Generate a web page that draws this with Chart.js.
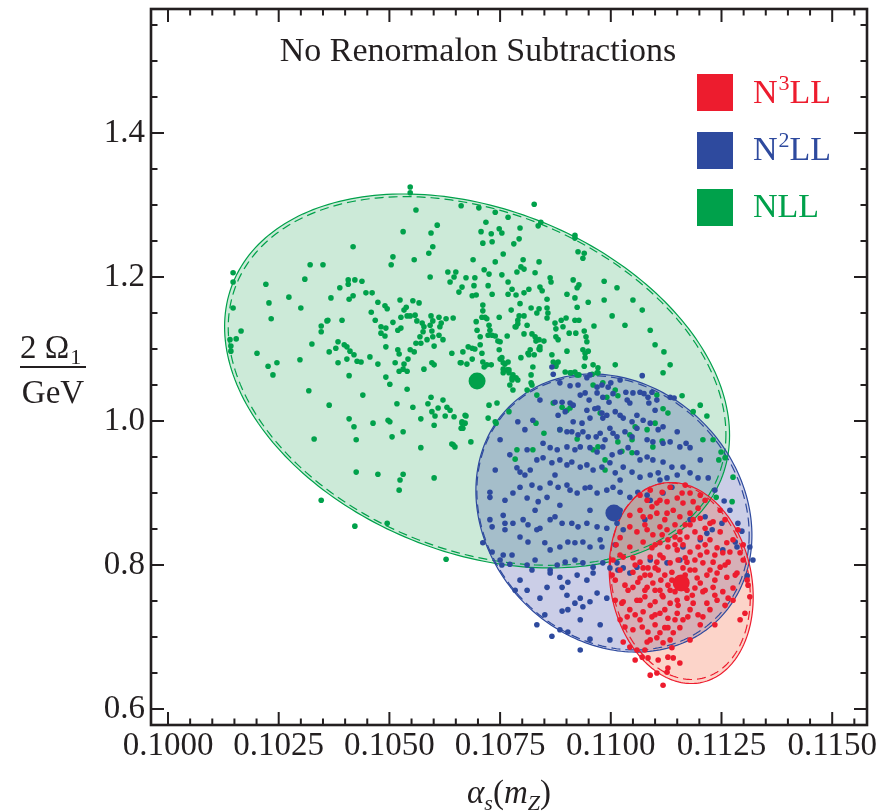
<!DOCTYPE html>
<html>
<head>
<meta charset="utf-8">
<script src="https://cdn.jsdelivr.net/npm/chart.js@4.4.1/dist/chart.umd.min.js"></script>
<style>
  html, body { margin: 0; padding: 0; background: #fff; }
  #wrap { width: 883px; height: 811px; }
</style>
</head>
<body>
<div id="wrap"><canvas id="chart" width="883" height="811"></canvas></div>
<script>
// ---- data ----
const xMajor = [0.1000, 0.1025, 0.1050, 0.1075, 0.1100, 0.1125, 0.1150];
const xTickLabels = ['0.1000', '0.1025', '0.1050', '0.1075', '0.1100', '0.1125', '0.1150'];
const yMajor = [0.6, 0.8, 1.0, 1.2, 1.4];
const yTickLabels = ['0.6', '0.8', '1.0', '1.2', '1.4'];

const seriesNames = ['N3LL', 'N2LL', 'NLL'];

// best fit values (big dots)
const n3llCenter = [0.11159, 0.775];
const n2llCenter = [0.11007, 0.8722];
const nllCenter = [0.10698, 1.0556];

// error ellipses: [center alpha, center omega, half width, half height, correlation]
const n3llEllipse = [0.11159, 0.7750, 0.001626, 0.1396, -0.14];
const n3llEllipseDashed = [0.11157, 0.7775, 0.001580, 0.1365, -0.16];
const n2llEllipse = [0.11007, 0.8722, 0.003117, 0.1931, -0.16];
const n2llEllipseDashed = [0.11005, 0.8725, 0.003075, 0.1905, -0.16];
const nllEllipse = [0.10698, 1.0556, 0.005702, 0.2597, -0.29];
const nllEllipseDashed = [0.10698, 1.0556, 0.005620, 0.2560, -0.29];

const nllPts = [
[0.10547,1.325],[0.10547,1.317],[0.10560,1.293],[0.10662,1.299],[0.10702,1.296],[0.10739,1.290],[0.10768,1.283],[0.10827,1.301],[0.10842,1.276],[0.10836,1.271],
[0.10919,1.258],[0.10919,1.254],[0.10926,1.235],[0.10940,1.233],[0.10937,1.226],[0.10608,1.272],[0.10594,1.261],[0.10531,1.263],[0.10418,1.242],[0.10598,1.242],
[0.10589,1.233],[0.10508,1.228],[0.10504,1.217],[0.10556,1.224],[0.10321,1.217],[0.10350,1.217],[0.10309,1.197],[0.10718,1.276],[0.10707,1.263],[0.10730,1.260],
[0.10754,1.261],[0.10748,1.267],[0.10711,1.247],[0.10732,1.249],[0.10781,1.246],[0.10793,1.253],[0.10795,1.268],[0.10689,1.224],[0.10739,1.221],[0.10757,1.232],
[0.10802,1.224],[0.10797,1.214],[0.10804,1.211],[0.10838,1.221],[0.10829,1.206],[0.10714,1.210],[0.10754,1.203],[0.10725,1.204],[0.10632,1.207],[0.10650,1.207],
[0.10637,1.193],[0.10646,1.200],[0.10592,1.200],[0.10673,1.199],[0.10693,1.199],[0.10664,1.186],[0.10657,1.179],[0.10691,1.188],[0.10696,1.175],[0.10687,1.174],
[0.10723,1.188],[0.10732,1.176],[0.10768,1.193],[0.10777,1.183],[0.10788,1.207],[0.10768,1.176],[0.10786,1.175],[0.10804,1.178],[0.10815,1.183],[0.10840,1.186],
[0.10845,1.181],[0.10863,1.199],[0.10865,1.193],[0.10915,1.196],[0.10928,1.189],[0.10924,1.185],[0.10901,1.176],[0.10949,1.165],[0.10919,1.171],[0.10924,1.158],
[0.10856,1.169],[0.10820,1.157],[0.10838,1.156],[0.10833,1.150],[0.10856,1.157],[0.10858,1.150],[0.10856,1.143],[0.10795,1.163],[0.10775,1.154],[0.10793,1.146],
[0.10804,1.146],[0.10790,1.140],[0.10784,1.131],[0.10748,1.144],[0.10711,1.161],[0.10711,1.153],[0.10709,1.144],[0.10716,1.144],[0.10720,1.142],[0.10725,1.133],
[0.10727,1.126],[0.10723,1.119],[0.10698,1.126],[0.10696,1.138],[0.10732,1.119],[0.10739,1.118],[0.10745,1.111],[0.10750,1.110],[0.10748,1.099],[0.10766,1.118],
[0.10786,1.131],[0.10790,1.135],[0.10804,1.121],[0.10811,1.133],[0.10822,1.121],[0.10829,1.117],[0.10838,1.113],[0.10849,1.111],[0.10840,1.103],[0.10838,1.100],
[0.10831,1.111],[0.10874,1.136],[0.10876,1.128],[0.10892,1.131],[0.10899,1.143],[0.10888,1.140],[0.10919,1.140],[0.10928,1.140],[0.10876,1.117],[0.10881,1.113],
[0.10906,1.122],[0.10921,1.122],[0.10940,1.125],[0.10944,1.117],[0.10946,1.110],[0.10962,1.132],[0.10867,1.092],[0.10901,1.097],[0.10937,1.099],[0.10942,1.094],
[0.10919,1.068],[0.10928,1.064],[0.10940,1.076],[0.10942,1.088],[0.10971,1.074],[0.10971,1.067],[0.10818,1.099],[0.10813,1.094],[0.10797,1.088],[0.10761,1.079],
[0.10766,1.071],[0.10779,1.064],[0.10777,1.057],[0.10786,1.060],[0.10754,1.088],[0.10711,1.082],[0.10714,1.075],[0.10720,1.078],[0.10730,1.078],[0.10709,1.094],
[0.10693,1.100],[0.10705,1.106],[0.10705,1.117],[0.10678,1.103],[0.10687,1.101],[0.10666,1.096],[0.10662,1.081],[0.10641,1.094],[0.10601,1.104],[0.10585,1.113],
[0.10576,1.124],[0.10569,1.117],[0.10596,1.125],[0.10598,1.117],[0.10614,1.131],[0.10612,1.119],[0.10621,1.113],[0.10612,1.144],[0.10617,1.136],[0.10628,1.142],
[0.10644,1.143],[0.10594,1.146],[0.10598,1.139],[0.10592,1.133],[0.10574,1.136],[0.10562,1.139],[0.10578,1.131],[0.10558,1.147],[0.10540,1.146],[0.10533,1.154],
[0.10538,1.158],[0.10553,1.167],[0.10567,1.164],[0.10524,1.168],[0.10547,1.146],[0.10526,1.144],[0.10508,1.137],[0.10526,1.129],[0.10519,1.126],[0.10492,1.129],
[0.10481,1.131],[0.10481,1.122],[0.10490,1.118],[0.10474,1.165],[0.10459,1.151],[0.10468,1.140],[0.10490,1.160],[0.10495,1.156],[0.10461,1.178],[0.10447,1.178],
[0.10422,1.196],[0.10407,1.196],[0.10407,1.190],[0.10438,1.194],[0.10388,1.185],[0.10368,1.171],[0.10409,1.169],[0.10418,1.174],[0.10393,1.140],[0.10359,1.139],
[0.10346,1.132],[0.10346,1.124],[0.10325,1.107],[0.10384,1.110],[0.10398,1.106],[0.10404,1.103],[0.10411,1.097],[0.10404,1.086],[0.10364,1.096],[0.10379,1.101],
[0.10384,1.081],[0.10409,1.063],[0.10420,1.092],[0.10427,1.083],[0.10436,1.082],[0.10456,1.089],[0.10474,1.079],[0.10492,1.103],[0.10492,1.061],[0.10519,1.099],
[0.10522,1.093],[0.10513,1.081],[0.10522,1.069],[0.10531,1.072],[0.10540,1.069],[0.10533,1.079],[0.10542,1.086],[0.10547,1.099],[0.10556,1.096],[0.10560,1.108],
[0.10571,1.108],[0.10578,1.072],[0.10596,1.081],[0.10601,1.078],[0.10675,1.079],[0.10687,1.086],[0.10750,1.086],[0.10757,1.072],[0.10770,1.067],[0.10815,1.092],
[0.10827,1.092],[0.10840,1.099],[0.10870,1.082],[0.10876,1.078],[0.10881,1.082],[0.10910,1.067],[0.10924,1.064],[0.10820,1.053],[0.10949,1.097],
[0.10147,1.206],[0.10147,1.193],[0.10147,1.157],[0.10165,1.125],[0.10154,1.114],[0.10140,1.113],[0.10142,1.104],[0.10142,1.097],[0.10221,1.190],[0.10228,1.164],
[0.10233,1.142],[0.10273,1.172],[0.10300,1.157],[0.10201,1.094],[0.10226,1.076],[0.10237,1.064],[0.10246,1.081],[0.10298,1.085],[0.10318,1.042],[0.10330,0.975],
[0.10361,1.140],[0.10364,1.022],[0.10440,1.036],[0.10409,1.003],[0.10420,0.992],[0.10425,0.974],[0.10463,0.997],[0.10501,1.051],[0.10497,1.001],[0.10501,0.999],
[0.10506,0.978],[0.10517,1.024],[0.10531,0.985],[0.10540,1.044],[0.10553,1.019],[0.10571,1.003],[0.10571,0.963],[0.10587,1.024],[0.10594,1.033],[0.10596,1.013],
[0.10603,1.007],[0.10610,1.018],[0.10621,1.029],[0.10626,1.007],[0.10630,1.019],[0.10637,1.015],[0.10646,1.006],[0.10601,0.994],[0.10662,0.990],[0.10664,0.997],
[0.10671,0.997],[0.10673,1.007],[0.10684,0.971],[0.10641,0.968],[0.10648,0.964],[0.10723,1.004],[0.10725,1.022],[0.10743,1.025],[0.10741,0.997],
[0.10425,0.929],[0.10474,0.926],[0.10531,0.926],[0.10524,0.918],[0.10522,0.904],[0.10601,0.921],[0.10346,0.890],[0.10422,0.854],[0.10495,0.858],[0.10628,0.808],
[0.10660,1.081],[0.10739,0.999],[0.10671,1.008],[0.10664,0.999],[0.10666,0.990],[0.10644,0.967],[0.10757,1.081],[0.10768,1.082],[0.10770,1.071],[0.10757,1.067],
[0.10777,1.060],[0.10772,1.050],[0.10779,1.043],[0.10790,1.057],[0.10822,1.050],[0.10820,1.064],[0.10824,1.075],[0.10811,1.043],[0.10833,1.036],[0.10770,1.013],
[0.10831,0.997],[0.10849,0.983],[0.10788,0.960],[0.10784,0.947],[0.10824,0.960],[0.10876,1.076],[0.10897,1.068],[0.10908,1.067],[0.10960,1.078],[0.10958,1.065],
[0.10969,1.067],[0.11010,1.078],[0.10960,1.050],[0.10982,1.053],[0.11010,1.043],[0.11016,1.035],[0.10991,1.033],[0.10870,1.025],[0.10890,1.019],[0.10901,1.015],
[0.10908,1.018],[0.10885,0.988],[0.10976,1.011],[0.10924,0.975],[0.11016,0.971],[0.11048,0.974],[0.11055,0.992],[0.11043,0.981],[0.11082,0.988],[0.11025,0.958],
[0.11048,0.956],[0.11095,0.964],[0.11116,0.972],[0.11100,0.997],[0.11118,1.017],[0.11129,1.011],[0.11104,1.036],[0.11118,1.067],[0.11161,1.035],[0.11186,1.013],
[0.11208,0.974],[0.11231,0.974],[0.11249,0.957],[0.11244,0.946],[0.11258,0.949],[0.11276,0.922],[0.11274,0.888],[0.11238,0.894],[0.10987,0.946],[0.10987,0.932],
[0.10960,0.960],[0.10971,0.964],[0.10985,1.168],[0.11003,1.146],[0.11032,1.133],[0.11050,1.168],[0.11071,1.154],[0.11089,1.126],[0.11100,1.106],[0.11120,1.096],
[0.11134,1.078],[0.11202,1.022],[0.11217,1.007],[0.10985,1.194],[0.11014,1.185]
];

const n2llPts = [
[0.10867,1.075],[0.10870,1.065],[0.10885,1.053],[0.10908,1.049],[0.10926,1.050],[0.10946,1.060],[0.10953,1.064],[0.10969,1.047],[0.10980,1.050],[0.10994,1.047],
[0.11000,1.053],[0.10942,1.039],[0.10951,1.029],[0.10969,1.039],[0.10982,1.033],[0.10996,1.026],[0.11005,1.038],[0.11034,1.040],[0.11050,1.039],[0.11066,1.040],
[0.11071,1.063],[0.11075,1.038],[0.11084,1.033],[0.11093,1.040],[0.11104,1.029],[0.11134,1.033],[0.11143,1.032],[0.11086,1.025],[0.11037,1.029],[0.11043,1.025],
[0.10874,1.026],[0.10890,1.026],[0.10908,1.025],[0.10915,1.022],[0.10897,1.013],[0.10881,1.008],[0.10946,1.015],[0.10964,1.017],[0.10971,1.018],[0.10980,1.011],
[0.10991,1.008],[0.10982,1.004],[0.11010,1.013],[0.10915,0.999],[0.10935,0.997],[0.10953,1.004],[0.11021,1.008],[0.11028,1.004],[0.11048,0.999],[0.11059,1.008],
[0.11073,1.001],[0.11089,0.997],[0.11107,0.988],[0.11118,0.992],[0.11150,0.985],[0.11170,0.969],[0.11179,0.963],[0.10790,0.999],[0.10824,1.001],[0.10885,0.988],
[0.10901,0.985],[0.10912,0.985],[0.10926,0.981],[0.10937,0.985],[0.10949,0.978],[0.10967,0.978],[0.10976,0.983],[0.10987,0.974],[0.10998,0.990],[0.11005,0.983],
[0.11014,0.978],[0.11032,0.985],[0.11048,0.978],[0.11059,0.990],[0.11082,0.974],[0.11095,0.971],[0.11118,0.969],[0.11134,0.971],[0.11156,0.964],[0.10847,0.969],
[0.10863,0.963],[0.10879,0.960],[0.10901,0.964],[0.10919,0.960],[0.10931,0.964],[0.10953,0.963],[0.10969,0.957],[0.10982,0.964],[0.11003,0.953],[0.11021,0.957],
[0.11039,0.963],[0.11059,0.956],[0.11082,0.950],[0.11095,0.946],[0.11118,0.943],[0.11138,0.936],[0.10811,0.960],[0.10833,0.946],[0.10788,0.935],[0.10806,0.925],
[0.10795,0.929],[0.10847,0.949],[0.10867,0.942],[0.10885,0.946],[0.10901,0.939],[0.10912,0.943],[0.10931,0.936],[0.10946,0.939],[0.10960,0.932],[0.10980,0.936],
[0.10998,0.942],[0.11010,0.928],[0.11028,0.936],[0.11048,0.929],[0.11066,0.922],[0.11089,0.925],[0.11107,0.928],[0.11127,0.921],[0.11150,0.925],[0.11163,0.936],
[0.11179,0.928],[0.11197,0.921],[0.11220,0.921],[0.10822,0.911],[0.10840,0.907],[0.10863,0.914],[0.10881,0.908],[0.10901,0.911],[0.10908,0.904],[0.10924,0.900],
[0.10942,0.907],[0.10953,0.908],[0.10969,0.900],[0.10991,0.904],[0.11005,0.908],[0.11021,0.901],[0.11043,0.894],[0.11061,0.901],[0.11082,0.897],[0.11089,0.890],
[0.11118,0.900],[0.11138,0.908],[0.10727,0.901],[0.10779,0.900],[0.10811,0.893],[0.10836,0.888],[0.10856,0.894],[0.10727,0.863],[0.10761,0.858],[0.10779,0.858],
[0.10802,0.863],[0.10813,0.856],[0.10840,0.851],[0.10863,0.863],[0.10874,0.867],[0.10890,0.858],[0.10912,0.858],[0.10926,0.853],[0.10946,0.858],[0.10969,0.853],
[0.10991,0.851],[0.11014,0.858],[0.11028,0.849],[0.10711,0.831],[0.10732,0.818],[0.10757,0.814],[0.10777,0.814],[0.10795,0.839],[0.10813,0.832],[0.10833,0.849],
[0.10851,0.831],[0.10863,0.821],[0.10885,0.825],[0.10903,0.832],[0.10919,0.831],[0.10937,0.832],[0.10953,0.825],[0.10980,0.825],[0.10754,0.800],[0.10772,0.801],
[0.10811,0.800],[0.10822,0.793],[0.10863,0.793],[0.10879,0.800],[0.10897,0.804],[0.10919,0.807],[0.10937,0.803],[0.10960,0.797],[0.10982,0.803],[0.10998,0.796],
[0.11016,0.793],[0.10863,0.789],[0.10885,0.783],[0.10903,0.776],[0.10924,0.786],[0.10946,0.779],[0.10960,0.789],[0.10811,0.765],[0.10840,0.754],[0.10856,0.769],
[0.10890,0.769],[0.10901,0.758],[0.10919,0.747],[0.10931,0.754],[0.10937,0.742],[0.10969,0.761],[0.10991,0.754],[0.10890,0.736],[0.10903,0.738],[0.10953,0.749],
[0.10833,0.717],[0.10867,0.701],[0.10903,0.707],[0.10953,0.697],[0.11287,0.858],[0.11296,0.847],[0.11314,0.825],[0.11321,0.807],[0.11308,0.785],[0.11281,0.832],
[0.11256,0.889],[0.11251,0.858],[0.11229,0.849],[0.11213,0.867],[0.11014,0.803],[0.11028,0.796],[0.11043,0.789],[0.11059,0.797],[0.11089,0.807],[0.11127,0.803],
[0.11156,0.807],[0.11163,0.825],[0.11202,0.835],[0.11217,0.844],[0.11253,0.821],[0.11285,0.825],[0.10732,0.853],[0.10727,0.894],[0.10795,0.908],[0.10757,0.869],
[0.10750,0.974],[0.10772,0.953],[0.10739,0.932],[0.10761,0.890],[0.10829,0.876],[0.10885,0.883],[0.10953,0.876],[0.11021,0.876],[0.11077,0.863],[0.11111,0.918],
[0.11202,0.946],[0.11235,0.904],[0.11269,0.876],[0.11179,0.863],[0.10976,0.835],[0.11010,0.828],[0.10829,0.807],[0.10795,0.779],[0.10851,0.731],[0.10885,0.710],
[0.10931,0.724],[0.10976,0.717],[0.10998,0.696],[0.10931,0.682],[0.10818,0.932],[0.10874,0.925],[0.11021,0.918],[0.11066,0.946],[0.11100,1.015],[0.10931,1.036],
[0.11021,1.057],[0.10840,1.029],[0.10806,0.988],[0.10761,0.849],[0.10750,0.807],[0.10784,0.765]
];

const n3llPts = [
[0.11116,0.901],[0.11134,0.908],[0.11161,0.900],[0.11179,0.900],[0.11150,0.893],[0.11127,0.888],[0.11104,0.886],[0.11093,0.881],[0.11082,0.890],[0.11163,0.886],
[0.11186,0.888],[0.11197,0.879],[0.11066,0.876],[0.11073,0.867],[0.11089,0.867],[0.11104,0.872],[0.11127,0.872],[0.11141,0.876],[0.11156,0.867],[0.11179,0.872],
[0.11186,0.863],[0.11202,0.865],[0.11224,0.858],[0.11231,0.860],[0.11213,0.851],[0.11043,0.853],[0.11059,0.846],[0.11082,0.849],[0.11095,0.842],[0.11111,0.853],
[0.11127,0.849],[0.11145,0.839],[0.11156,0.846],[0.11172,0.839],[0.11190,0.846],[0.11202,0.838],[0.11224,0.835],[0.11247,0.846],[0.11262,0.831],[0.11276,0.835],
[0.11021,0.838],[0.11043,0.825],[0.11073,0.832],[0.11093,0.824],[0.11111,0.831],[0.11129,0.825],[0.11150,0.821],[0.11163,0.828],[0.11179,0.818],[0.11197,0.825],
[0.11217,0.818],[0.11240,0.824],[0.11253,0.817],[0.11269,0.818],[0.11292,0.817],[0.11028,0.811],[0.11050,0.810],[0.11066,0.804],[0.11089,0.811],[0.11104,0.804],
[0.11118,0.810],[0.11134,0.803],[0.11152,0.807],[0.11172,0.804],[0.11190,0.807],[0.11208,0.803],[0.11231,0.804],[0.11247,0.797],[0.11265,0.804],[0.11299,0.807],
[0.11021,0.793],[0.11050,0.790],[0.11073,0.796],[0.11089,0.786],[0.11107,0.793],[0.11122,0.786],[0.11138,0.790],[0.11195,0.782],[0.11217,0.786],[0.11240,0.789],
[0.11262,0.783],[0.11285,0.789],[0.11308,0.779],[0.11050,0.769],[0.11061,0.776],[0.11082,0.769],[0.11095,0.775],[0.11111,0.765],[0.11129,0.772],[0.11145,0.763],
[0.11172,0.765],[0.11190,0.768],[0.11208,0.763],[0.11231,0.769],[0.11253,0.763],[0.11276,0.768],[0.11310,0.772],[0.11314,0.756],[0.11028,0.749],[0.11059,0.751],
[0.11077,0.756],[0.11100,0.749],[0.11118,0.756],[0.11134,0.747],[0.11150,0.751],[0.11172,0.754],[0.11186,0.747],[0.11217,0.747],[0.11240,0.751],[0.11265,0.754],
[0.11303,0.733],[0.11037,0.728],[0.11055,0.731],[0.11073,0.735],[0.11093,0.728],[0.11111,0.733],[0.11129,0.726],[0.11150,0.733],[0.11163,0.724],[0.11174,0.728],
[0.11208,0.728],[0.11032,0.714],[0.11050,0.710],[0.11071,0.714],[0.11084,0.707],[0.11100,0.717],[0.11111,0.706],[0.11122,0.713],[0.11141,0.706],[0.11156,0.713],
[0.11028,0.693],[0.11043,0.686],[0.11059,0.682],[0.11082,0.693],[0.11104,0.699],[0.11118,0.692],[0.11134,0.696],[0.11071,0.672],[0.11084,0.671],[0.11107,0.668],
[0.11129,0.672],[0.11141,0.671],[0.11156,0.664],[0.11104,0.650],[0.11127,0.651],[0.11129,0.657],[0.11118,0.633],[0.11025,0.747],[0.11111,0.814],[0.11145,0.828],
[0.11168,0.856],[0.11122,0.863],[0.11100,0.828],[0.11138,0.779],[0.11168,0.786],[0.11113,0.779],[0.11077,0.786],[0.11202,0.775],[0.11224,0.738],[0.11089,0.744],
[0.11122,0.738],[0.11066,0.724],[0.11134,0.765],[0.11179,0.793],[0.11066,0.782],[0.11156,0.835],[0.11100,0.796],[0.11184,0.758],[0.11235,0.779],[0.11039,0.765],
[0.11010,0.779],[0.11005,0.807],[0.11012,0.828],[0.11276,0.751],[0.11292,0.724],[0.11258,0.863],[0.11089,0.904],[0.11066,0.897],[0.11202,0.897],[0.11247,0.876],
[0.11077,0.856],[0.11116,0.842],[0.11179,0.856],[0.11145,0.856],[0.11213,0.828],[0.11235,0.814],[0.11055,0.800],[0.11084,0.796],[0.11163,0.796],[0.11190,0.793],
[0.11213,0.765],[0.11163,0.776],[0.11179,0.738],[0.11202,0.717],[0.11145,0.724],[0.11100,0.731],[0.11077,0.765],[0.11043,0.738],[0.11021,0.724],[0.11010,0.751],
[0.11179,0.696],[0.11077,0.682],[0.11055,0.668],[0.11089,0.647],[0.11138,0.685],[0.11235,0.758],[0.11258,0.744],[0.11281,0.786],[0.11299,0.828],[0.11287,0.849],
[0.11111,0.890],[0.11168,0.911],[0.11213,0.890],[0.11043,0.869],[0.11021,0.814],[0.11003,0.786],[0.11129,0.835],[0.11168,0.810],[0.11202,0.814],[0.11224,0.793],
[0.11116,0.758],[0.11152,0.744],[0.11197,0.731],[0.11235,0.717],[0.11129,0.713],[0.11089,0.696],[0.11032,0.772],[0.11066,0.751],[0.11100,0.765],[0.11258,0.800]
];

// ---- styling ----
const ink = '#231f20';
const serif = '"Liberation Serif", "Times New Roman", serif';
const red = '#ed1c2e', blue = '#2e4a9e', green = '#00a14b';

const toXY = (arr) => arr.map(([x, y]) => ({ x, y }));

function ellipsePath(ctx, chart, e) {
    const xs = chart.scales.x, ys = chart.scales.y;
    const [cx, cy, wx, hy, rho] = e;
    const d = Math.acos(rho);
    ctx.beginPath();
    for (let i = 0; i <= 240; i++) {
        const t = i / 240 * 2 * Math.PI;
        const px = xs.getPixelForValue(cx + wx * Math.cos(t));
        const py = ys.getPixelForValue(cy + hy * Math.cos(t + d));
        if (i === 0) ctx.moveTo(px, py); else ctx.lineTo(px, py);
    }
    ctx.closePath();
}

const ellipses = {
    id: 'ellipses',
    beforeDatasetsDraw(chart) {
        const ctx = chart.ctx, a = chart.chartArea;
        ctx.save();
        ctx.beginPath();
        ctx.rect(a.left, a.top, a.right - a.left, a.bottom - a.top);
        ctx.clip();
        const fills = [
            [nllEllipse, 'rgba(0,150,60,0.2)'],
            [n2llEllipse, 'rgba(46,60,160,0.25)'],
            [n3llEllipse, 'rgba(245,100,60,0.28)'],
        ];
        fills.forEach(([e, c]) => { ellipsePath(ctx, chart, e); ctx.fillStyle = c; ctx.fill(); });
        const lines = [
            [nllEllipseDashed, green, true], [nllEllipse, green, false],
            [n2llEllipseDashed, blue, true], [n2llEllipse, blue, false],
            [n3llEllipseDashed, red, true], [n3llEllipse, red, false],
        ];
        lines.forEach(([e, c, dashed]) => {
            ellipsePath(ctx, chart, e);
            ctx.setLineDash(dashed ? [9, 5] : []);
            ctx.lineWidth = 1.2;
            ctx.strokeStyle = c;
            ctx.stroke();
        });
        ctx.restore();
    }
};

const frame = {
    id: 'frame',
    afterDraw(chart) {
        const ctx = chart.ctx, a = chart.chartArea;
        const xs = chart.scales.x, ys = chart.scales.y;
        ctx.save();
        ctx.strokeStyle = ink;
        ctx.lineWidth = 2;
        ctx.beginPath();
        xs.ticks.forEach(t => {
            const p = xs.getPixelForValue(t.value);
            const len = t.label ? 13 : 6.5;
            ctx.moveTo(p, a.bottom); ctx.lineTo(p, a.bottom - len);
            ctx.moveTo(p, a.top); ctx.lineTo(p, a.top + len);
        });
        ys.ticks.forEach(t => {
            const p = ys.getPixelForValue(t.value);
            const len = t.label ? 13 : 6.5;
            ctx.moveTo(a.left, p); ctx.lineTo(a.left + len, p);
            ctx.moveTo(a.right, p); ctx.lineTo(a.right - len, p);
        });
        ctx.stroke();
        ctx.lineWidth = 2.6;
        ctx.strokeRect(a.left, a.top, a.right - a.left, a.bottom - a.top);

        // plot label
        ctx.fillStyle = ink;
        ctx.textBaseline = 'alphabetic';
        ctx.textAlign = 'center';
        ctx.font = '34px ' + serif;
        ctx.fillText('No Renormalon Subtractions', 478, 61);

        // legend
        const legendRows = [
            { color: red, top: 74, base: 103, sup: '3' },
            { color: blue, top: 132, base: 160, sup: '2' },
            { color: green, top: 189, base: 217, sup: '' },
        ];
        ctx.textAlign = 'left';
        legendRows.forEach(r => {
            ctx.fillStyle = r.color;
            ctx.fillRect(697, r.top, 36, 37);
            let x = 753;
            ctx.font = '34px ' + serif;
            ctx.fillText('N', x, r.base);
            x += ctx.measureText('N').width;
            if (r.sup) {
                ctx.font = '22px ' + serif;
                ctx.fillText(r.sup, x + 1, r.base - 13);
                x += ctx.measureText(r.sup).width + 1;
            }
            ctx.font = '34px ' + serif;
            ctx.fillText('LL', x, r.base);
        });

        // y title: 2 Omega_1 / GeV
        ctx.fillStyle = ink;
        ctx.font = '33px ' + serif;
        ctx.fillText('2 \u03A9', 20, 358);
        const w = ctx.measureText('2 \u03A9').width;
        ctx.font = '22px ' + serif;
        ctx.fillText('1', 20 + w + 1, 364);
        ctx.fillRect(20, 366, 66, 2);
        ctx.font = '33px ' + serif;
        ctx.textAlign = 'center';
        ctx.fillText('GeV', 53, 403);

        // x title: alpha_s(m_Z)
        ctx.textAlign = 'left';
        const parts = [
            ['\u03B1', 'italic 33px ', 0],
            ['s', 'italic 22px ', 7],
            ['(', '33px ', 0],
            ['m', 'italic 33px ', 0],
            ['Z', 'italic 22px ', 7],
            [')', '33px ', 0],
        ];
        let total = 0;
        parts.forEach(([s, f]) => { ctx.font = f + serif; total += ctx.measureText(s).width; });
        let x = (a.left + a.right) / 2 - total / 2;
        parts.forEach(([s, f, dy]) => {
            ctx.font = f + serif;
            ctx.fillText(s, x, 803 + dy);
            x += ctx.measureText(s).width;
        });
        ctx.restore();
    }
};

const pointSet = (label, pts, color, r) => ({
    label, data: toXY(pts),
    pointRadius: r, pointHoverRadius: r,
    pointBackgroundColor: color, pointBorderWidth: 0, borderColor: color,
});

new Chart(document.getElementById('chart'), {
    type: 'scatter',
    data: {
        datasets: [
            pointSet(seriesNames[0] + ' fit', [n3llCenter], red, 8.5),
            pointSet(seriesNames[0], n3llPts, red, 2.8),
            pointSet(seriesNames[1] + ' fit', [n2llCenter], blue, 8.5),
            pointSet(seriesNames[1], n2llPts, blue, 2.8),
            pointSet(seriesNames[2] + ' fit', [nllCenter], green, 8.5),
            pointSet(seriesNames[2], nllPts, green, 2.8),
        ],
    },
    options: {
        responsive: false,
        animation: false,
        layout: { padding: { top: 9, right: 16, left: 0, bottom: 0 } },
        plugins: { legend: { display: false }, tooltip: { enabled: false } },
        scales: {
            x: {
                type: 'linear',
                min: 0.099616, max: 0.115786,
                grid: { display: false, drawTicks: false },
                border: { display: false },
                afterFit: (s) => { s.height = 86; s.paddingLeft = 0; s.paddingRight = 0; },
                ticks: {
                    stepSize: 0.0005, includeBounds: false, autoSkip: false,
                    maxRotation: 0, minRotation: 0, padding: 2,
                    color: ink, font: { family: serif, size: 33 },
                    callback: (v) => {
                        const i = xMajor.findIndex(m => Math.abs(m - v) < 1e-7);
                        return i >= 0 ? xTickLabels[i] : '';
                    },
                },
            },
            y: {
                type: 'linear',
                min: 0.5778, max: 1.5722,
                grid: { display: false, drawTicks: false },
                border: { display: false },
                afterFit: (s) => { s.width = 151; s.paddingTop = 0; s.paddingBottom = 0; },
                ticks: {
                    stepSize: 0.05, includeBounds: false, autoSkip: false, padding: 6,
                    color: ink, font: { family: serif, size: 33 },
                    callback: (v) => {
                        const i = yMajor.findIndex(m => Math.abs(m - v) < 1e-7);
                        return i >= 0 ? yTickLabels[i] : '';
                    },
                },
            },
        },
    },
    plugins: [ellipses, frame],
});
</script>
</body>
</html>
